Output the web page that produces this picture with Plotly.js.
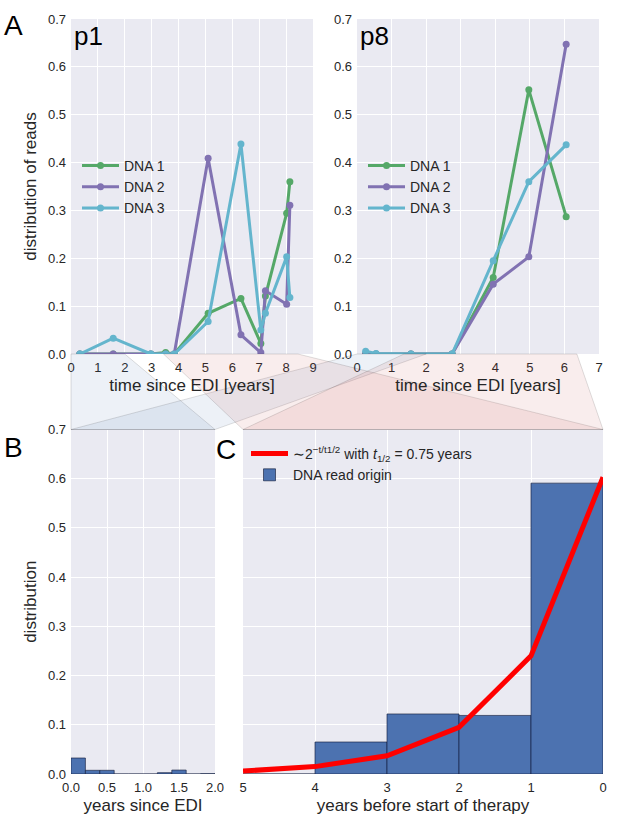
<!DOCTYPE html>
<html>
<head>
<meta charset="utf-8">
<script src="https://cdn.plot.ly/plotly-3.0.1.min.js"></script>
<style>html,body{margin:0;padding:0;background:#fff;}#chart{width:617px;height:816px;}</style>
</head>
<body>
<div id="chart"></div>
<script>
// ---------------- data ----------------
var seriesNames = ['DNA 1', 'DNA 2', 'DNA 3'];
var p1Times = [0.33, 1.57, 2.97, 3.52, 3.84, 5.10, 6.32, 7.06, 7.23, 8.02, 8.14];
var p1DNA1  = [0, 0, 0, 0.003, 0, 0.085, 0.116, 0.022, 0.121, 0.294, 0.360];
var p1DNA2  = [0, 0, 0, 0, 0, 0.409, 0.040, 0.003, 0.132, 0.104, 0.311];
var p1DNA3  = [0, 0.033, 0, 0, 0, 0.068, 0.439, 0.050, 0.085, 0.203, 0.118];

var p8Times = [0.25, 0.55, 1.56, 2.75, 3.94, 4.97, 6.05];
var p8DNA1  = [0, 0, 0, 0, 0.160, 0.552, 0.287];
var p8DNA2  = [0, 0, 0, 0, 0.146, 0.203, 0.647];
var p8DNA3  = [0.006, 0.001, 0, 0, 0.195, 0.360, 0.437];

var bBinCenters = [0.1, 0.3, 0.5, 0.7, 0.9, 1.1, 1.3, 1.5, 1.7, 1.9];
var bValues     = [0.0325, 0.0075, 0.0075, 0, 0, 0, 0.0027, 0.008, 0, 0.0007];

var cBinCenters = [4.5, 3.5, 2.5, 1.5, 0.5];
var cValues     = [0, 0.065, 0.122, 0.119, 0.591];
var fitYears    = [5, 4, 3, 2, 1, 0];
var fitValues   = [0.006, 0.015, 0.037, 0.095, 0.240, 0.603];

var therapyStart = {p1: 8.44, p8: 6.36};   // years since EDI at start of therapy
var earlyWindow  = [0, 2];                  // years since EDI shown in panel B
var cWindow      = 5;                       // years before therapy shown in panel C

// ---------------- style ----------------
var W = 617, H = 816;
var colors = ['#55A868', '#8172B2', '#64B5CD'];
var barBlue = '#4C72B0';
var txt = '#262626';
var FONT = 'Liberation Sans, Arial, sans-serif';

function dom(a, b, total) { return [a / total, b / total]; }
var dP1x = dom(71, 313, W), dP8x = dom(357, 599, W);
var dAy  = [1 - 354 / H, 1 - 19 / H];
var dBx  = dom(71, 215, W), dCx = dom(243, 603, W);
var dBy  = [1 - 774 / H, 1 - 429.5 / H];

var rP1 = [0, 9], rP8 = [0, 7], rB = [0, 2], rC = [5, 0], rY = [0, 0.7];

function axisBase(extra) {
  var a = {
    showgrid: true, gridcolor: '#ffffff', gridwidth: 1,
    zeroline: false, showline: false, ticks: '',
    tickfont: {size: 13, color: txt, family: FONT},
    ticklabelstandoff: 4,
    fixedrange: true
  };
  for (var k in extra) a[k] = extra[k];
  return a;
}

var traces = [];
var p1Series = [p1DNA1, p1DNA2, p1DNA3];
var p8Series = [p8DNA1, p8DNA2, p8DNA3];
for (var i = 0; i < 3; i++) {
  traces.push({
    x: p1Times, y: p1Series[i], name: seriesNames[i], type: 'scatter', mode: 'lines+markers',
    xaxis: 'x', yaxis: 'y', legend: 'legend',
    line: {color: colors[i], width: 3}, marker: {color: colors[i], size: 7}
  });
}
for (var j = 0; j < 3; j++) {
  traces.push({
    x: p8Times, y: p8Series[j], name: seriesNames[j], type: 'scatter', mode: 'lines+markers',
    xaxis: 'x2', yaxis: 'y2', legend: 'legend2',
    line: {color: colors[j], width: 3}, marker: {color: colors[j], size: 7}
  });
}
traces.push({
  x: bBinCenters, y: bValues, type: 'bar', width: 0.2, xaxis: 'x3', yaxis: 'y3', showlegend: false,
  marker: {color: barBlue, line: {color: 'rgba(20,30,60,0.8)', width: 0.8}}
});
traces.push({
  x: fitYears, y: fitValues, type: 'scatter', mode: 'lines', xaxis: 'x4', yaxis: 'y4', legend: 'legend3',
  name: '∼2<sup>−t/t1/2</sup> with <i>t</i><sub>1/2</sub> = 0.75 years',
  line: {color: '#ff0000', width: 5}, cliponaxis: false
});
traces.push({
  x: cBinCenters, y: cValues, type: 'bar', width: 1, xaxis: 'x4', yaxis: 'y4', legend: 'legend3',
  name: 'DNA read origin',
  marker: {color: barBlue, line: {color: 'rgba(20,30,60,0.8)', width: 0.8}}
});

// ---------------- connector shapes ----------------
function toPaper(domain, range, v) {
  return domain[0] + (v - range[0]) / (range[1] - range[0]) * (domain[1] - domain[0]);
}
function trap(topDom, topRange, t0, t1, botDom, botRange, b0, b1, fill) {
  var yt = dAy[0], yb = dBy[1];
  var xa = toPaper(topDom, topRange, t0), xb = toPaper(topDom, topRange, t1);
  var xc = toPaper(botDom, botRange, b1), xd = toPaper(botDom, botRange, b0);
  return {
    type: 'path', xref: 'paper', yref: 'paper', layer: 'above',
    path: 'M' + xa + ',' + yt + ' L' + xb + ',' + yt + ' L' + xc + ',' + yb + ' L' + xd + ',' + yb + ' Z',
    fillcolor: fill, line: {color: 'rgba(0,0,0,0.16)', width: 0.8}
  };
}
var blueFill = 'rgba(76,114,176,0.10)', redFill = 'rgba(196,78,82,0.10)';
var shapes = [
  trap(dP1x, rP1, earlyWindow[0], earlyWindow[1], dBx, rB, earlyWindow[0], earlyWindow[1], blueFill),
  trap(dP8x, rP8, earlyWindow[0], earlyWindow[1], dBx, rB, earlyWindow[0], earlyWindow[1], blueFill),
  trap(dP1x, rP1, therapyStart.p1 - cWindow, therapyStart.p1, dCx, rC, cWindow, 0, redFill),
  trap(dP8x, rP8, therapyStart.p8 - cWindow, therapyStart.p8, dCx, rC, cWindow, 0, redFill)
];

function ann(text, x, y, size, xanchor) {
  return {text: text, x: x / W, y: 1 - y / H, xref: 'paper', yref: 'paper', showarrow: false,
          xanchor: xanchor || 'left', yanchor: 'middle', font: {size: size, color: '#000', family: FONT}};
}

var legendBase = {
  bgcolor: 'rgba(0,0,0,0)', borderwidth: 0, font: {size: 14, color: txt, family: FONT},
  xanchor: 'left', yanchor: 'top', tracegroupgap: 0, itemwidth: 37,
  itemclick: false, itemdoubleclick: false
};
function leg(x, y) { var l = {}; for (var k in legendBase) l[k] = legendBase[k]; l.x = x / W; l.y = 1 - y / H; return l; }

var titleFont = {size: 17, color: txt, family: FONT};
var layout = {
  width: W, height: H,
  margin: {l: 0, r: 0, t: 0, b: 0},
  paper_bgcolor: '#ffffff', plot_bgcolor: '#EAEAF2',
  bargap: 0,
  font: {family: FONT, color: txt},
  xaxis:  axisBase({domain: dP1x, range: rP1, dtick: 1, anchor: 'y',
          title: {text: 'time since EDI [years]', font: titleFont, standoff: 5}}),
  yaxis:  axisBase({domain: dAy, range: rY, dtick: 0.1, tickformat: '.1f', anchor: 'x',
          title: {text: 'distribution of reads', font: titleFont, standoff: 6}}),
  xaxis2: axisBase({domain: dP8x, range: rP8, dtick: 1, anchor: 'y2',
          title: {text: 'time since EDI [years]', font: titleFont, standoff: 5}}),
  yaxis2: axisBase({domain: dAy, range: rY, dtick: 0.1, tickformat: '.1f', anchor: 'x2'}),
  xaxis3: axisBase({domain: dBx, range: rB, dtick: 0.5, tickformat: '.1f', anchor: 'y3',
          title: {text: 'years since EDI', font: titleFont, standoff: 5}}),
  yaxis3: axisBase({domain: dBy, range: rY, dtick: 0.1, tickformat: '.1f', anchor: 'x3',
          title: {text: 'distribution', font: titleFont, standoff: 6}}),
  xaxis4: axisBase({domain: dCx, range: rC, dtick: 1, anchor: 'y4',
          title: {text: 'years before start of therapy', font: titleFont, standoff: 5}}),
  yaxis4: axisBase({domain: dBy, range: rY, dtick: 0.1, anchor: 'x4', showticklabels: false}),
  legend:  leg(77, 150),
  legend2: leg(363, 150),
  legend3: leg(246, 438),
  shapes: shapes,
  annotations: [
    ann('A', 2, 25, 28), ann('B', 2, 447, 28), ann('C', 214, 449, 28),
    ann('p1', 72, 36, 26), ann('p8', 358, 36, 26)
  ]
};

Plotly.newPlot('chart', traces, layout, {displayModeBar: false, staticPlot: true});
</script>
</body>
</html>
